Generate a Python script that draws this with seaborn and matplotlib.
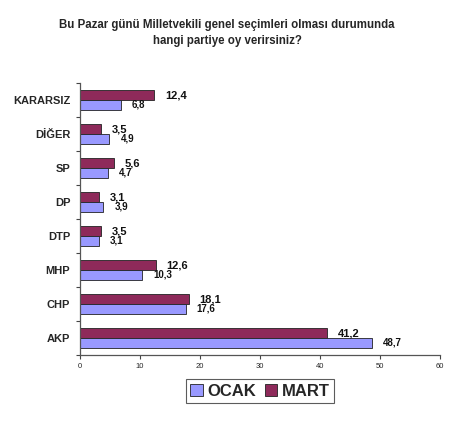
import matplotlib
matplotlib.use("Agg")
import matplotlib.pyplot as plt
import seaborn as sns
import pandas as pd
from matplotlib.patches import Patch

categories = ["KARARSIZ", "DİĞER", "SP", "DP", "DTP", "MHP", "CHP", "AKP"]
ocak = [6.8, 4.9, 4.7, 3.9, 3.1, 10.3, 17.6, 48.7]
mart = [12.4, 3.5, 5.6, 3.1, 3.5, 12.6, 18.1, 41.2]
series = ["OCAK", "MART"]
xticks = [0, 10, 20, 30, 40, 50, 60]
title = "Bu Pazar günü Milletvekili genel seçimleri olması durumunda\nhangi partiye oy verirsiniz?"

sns.set_theme(style="white")
plt.rcParams["font.family"] = ["Liberation Sans", "DejaVu Sans"]

colors = {"OCAK": "#9999FF", "MART": "#8E2A5A"}

df = pd.DataFrame({
    "parti": categories * 2,
    "donem": ["OCAK"] * len(categories) + ["MART"] * len(categories),
    "oran": ocak + mart,
})

fig = plt.figure(figsize=(4.6, 4.42), dpi=100)
ax = fig.add_axes([80 / 460, 87 / 442, 360 / 460, 272 / 442])

sns.barplot(data=df, y="parti", x="oran", hue="donem", order=categories,
            hue_order=["MART", "OCAK"], palette=colors, orient="h",
            width=0.56, edgecolor="#222222", linewidth=0.6, ax=ax,
            legend=False, errorbar=None, saturation=1)

for cont, size in zip(ax.containers, [8, 7]):
    labels = [f"{b.get_width():.1f}".replace(".", ",") for b in cont]
    ax.bar_label(cont, labels=labels, padding=8, fontsize=size,
                 fontweight="bold", color="#111111")

ax.set_xlim(0, 60)
ax.set_ylim(7.5, -0.5)
ax.set_xticks(xticks)
ax.set_xticklabels([str(t) for t in xticks], fontsize=5.5)
ax.set_xlabel("")
ax.set_ylabel("")
ax.set_yticks(range(len(categories)))
ax.set_yticklabels(categories, fontsize=8, fontweight="bold")
ax.set_yticks([i + 0.5 for i in range(-1, len(categories))], minor=True)
ax.tick_params(axis="y", which="major", length=0, pad=7)
ax.tick_params(axis="y", which="minor", length=3, width=0.8, color="#444444", left=True)
ax.tick_params(axis="x", which="major", length=3, width=0.8, color="#444444", bottom=True, pad=3)
for s in ["top", "right"]:
    ax.spines[s].set_visible(False)
for s in ["left", "bottom"]:
    ax.spines[s].set_color("#555555")
    ax.spines[s].set_linewidth(0.9)

fig.text(227 / 460, 1 - 33 / 442, title, ha="center", va="center",
         fontsize=8.3, fontweight="bold", linespacing=1.5)

handles = [Patch(facecolor=colors[s], edgecolor="#222222", linewidth=0.6, label=s) for s in series]
leg = fig.legend(handles=handles, loc="center", bbox_to_anchor=(260 / 460, 1 - 391 / 442),
                 ncol=2, frameon=True, fancybox=False,
                 prop={"weight": "bold", "size": 12}, handlelength=0.75, handleheight=0.75,
                 handletextpad=0.3, columnspacing=0.5, borderpad=0.25, edgecolor="#333333")
leg.get_frame().set_linewidth(0.8)

fig.savefig("out.png", dpi=100)
